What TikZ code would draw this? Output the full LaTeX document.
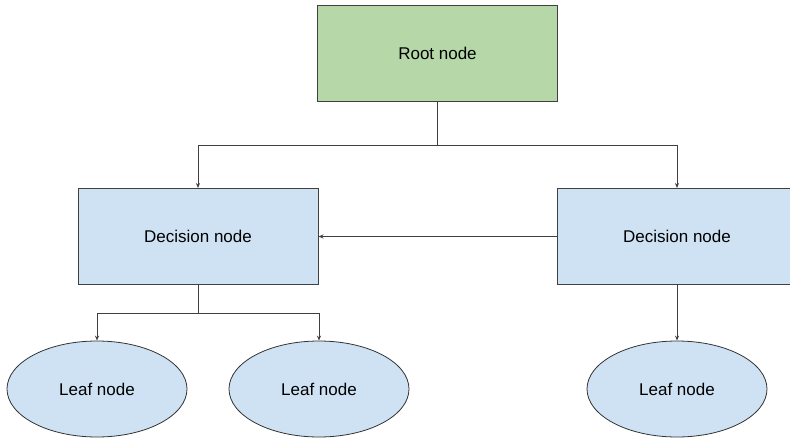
\documentclass[tikz,border=0pt]{standalone}
\usepackage{fontspec}
\setmainfont{Liberation Sans}
\usetikzlibrary{shapes.geometric,arrows.meta}
\definecolor{rootfill}{HTML}{B6D7A8}
\definecolor{nodefill}{HTML}{CFE2F3}
\definecolor{edge}{HTML}{404040}
\tikzset{
  box/.style={draw=edge, line width=1pt, rectangle, inner sep=0pt,
    minimum width=240pt, minimum height=96pt, font=\fontsize{17}{20}\selectfont},
  rootbox/.style={box, fill=rootfill},
  decbox/.style={box, fill=nodefill},
  leaf/.style={draw=black!80, line width=0.8pt, ellipse, inner sep=0pt, fill=nodefill,
    minimum width=180pt, minimum height=96pt, font=\fontsize{17}{20}\selectfont},
  link/.style={draw=edge, line width=1pt},
  arrow/.style={link, -{Stealth[length=5pt,width=4pt]}}
}
\begin{document}
\begin{tikzpicture}[x=1pt,y=-1pt]
  \useasboundingbox (0,0) rectangle (790,439);
  % boxes
  \node[rootbox] (root) at (437.5,53.5) {Root node};
  \node[decbox] (decL) at (198,236.5) {Decision node};
  \node[decbox] (decR) at (677,236.5) {Decision node};
  % leaves
  \node[leaf] (leafA) at (97,389) {Leaf node};
  \node[leaf] (leafB) at (319,389) {Leaf node};
  \node[leaf] (leafC) at (677,389) {Leaf node};
  % junction points
  \coordinate (jr) at (437.5,145);
  \coordinate (jl) at (198,313);
  % root to decisions
  \draw[link] (root.south) -- (jr);
  \draw[arrow] (jr) -| (decL.north);
  \draw[arrow] (jr) -| (decR.north);
  % right decision to left decision
  \draw[arrow] (decR.west) -- (decL.east);
  % decisions to leaves
  \draw[link] (decL.south) -- (jl);
  \draw[arrow] (jl) -| (leafA.north);
  \draw[arrow] (jl) -| (leafB.north);
  \draw[arrow] (decR.south) -- (leafC.north);
\end{tikzpicture}
\end{document}
